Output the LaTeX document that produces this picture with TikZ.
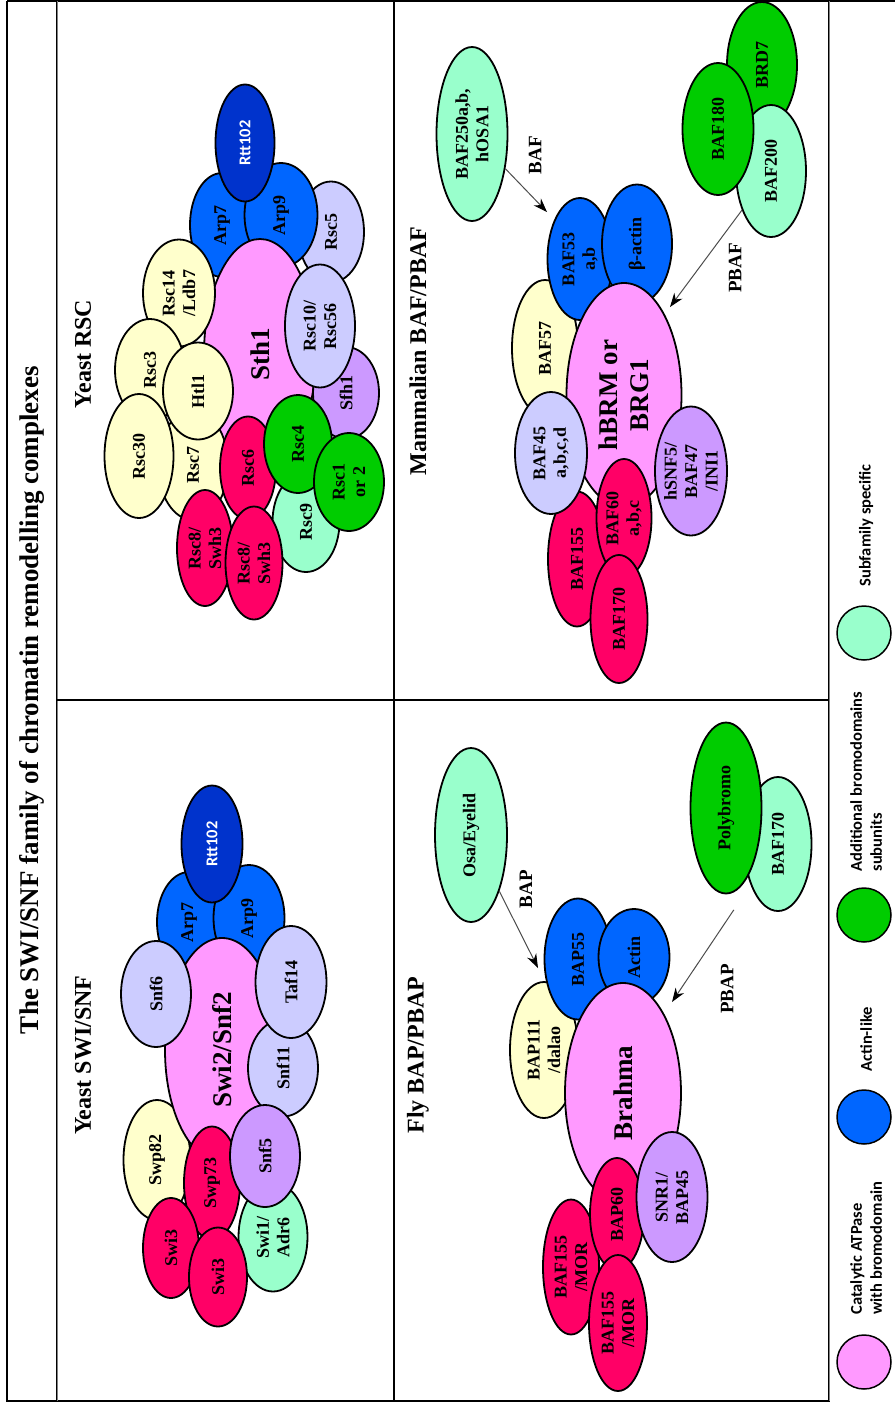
\documentclass[tikz,border=0pt]{standalone}
\usepackage{fontspec}
\setmainfont{Liberation Serif}
\newfontfamily\legendfont{Carlito}
\usetikzlibrary{shapes.geometric, arrows.meta}

\definecolor{atpase}{HTML}{FF99FF}
\definecolor{coresub}{HTML}{FFFFCC}
\definecolor{lavsub}{HTML}{CCCCFF}
\definecolor{snfsub}{HTML}{CC99FF}
\definecolor{swisub}{HTML}{FF0066}
\definecolor{bromo}{HTML}{00CC00}
\definecolor{subfam}{HTML}{99FFCC}
\definecolor{actinlike}{HTML}{0066FF}
\definecolor{rttblue}{HTML}{0033CC}

\tikzset{
  prot/.style={ellipse, draw, line width=1.8pt, inner sep=-8pt, rotate=90, align=center,
    font=\fontsize{18}{20.5}\selectfont\bfseries},
  dims/.style 2 args={minimum height=#1pt, minimum width=#2pt},
  bigtext/.style={font=\fontsize{27}{31}\selectfont\bfseries},
  rttnode/.style={fill=rttblue, text=white, font=\legendfont\bfseries\fontsize{16.5}{19}\selectfont},
  headtext/.style={rotate=90, font=\fontsize{24}{28}\selectfont\bfseries},
  panelline/.style={line width=2.5pt},
  dblline/.style={line width=0.8pt, double=gray, double distance=1pt},
  joins/.style={draw=black!70, line width=1pt, -{Stealth[length=14pt, width=10pt, black]}},
  arrowlab/.style={rotate=90, font=\fontsize{19}{22}\selectfont\bfseries},
  legdot/.style={circle, draw, line width=1.5pt, minimum size=54pt, inner sep=0pt},
  legtext/.style={rotate=90, anchor=west, align=left, font=\legendfont\bfseries\fontsize{16.5}{20}\selectfont},
}

\begin{document}
\begin{tikzpicture}[x=1pt, y=-1pt]
  \useasboundingbox (0,0) rectangle (895,1403);
  \draw [panelline] (7,1) -- (895,1);
  \draw [panelline] (7,1) -- (7,1401) -- (830,1401);
  \draw [dblline] (57,1) -- (57,1401);
  \draw [panelline] (394,1) -- (394,1401);
  \draw [panelline] (57,700) -- (829,700);
  \draw [dblline] (829,1) -- (829,1401);

  \node [headtext, font=\fontsize{27}{31}\selectfont\bfseries] (title) at (32,700) {The SWI/SNF family of chromatin remodelling complexes};
  \node [headtext] (rschead) at (83,354) {Yeast RSC};
  \node [headtext] (swihead) at (83,1055) {Yeast SWI/SNF};
  \node [headtext] (bafhead) at (418,351) {Mammalian BAF/PBAF};
  \node [headtext] (baphead) at (418,1055) {Fly BAP/PBAP};

  \node [prot, dims={66}{101}, fill=lavsub] (rsc5) at (331,232) {Rsc5};
  \node [prot, dims={64}{104}, fill=actinlike] (rarp7) at (222,225) {Arp7};
  \node [prot, dims={73}{104}, fill=actinlike] (rarp9) at (281,215) {Arp9};
  \node [prot, rttnode, dims={59}{117}] (rrtt) at (245,143) {Rtt102};
  \node [prot, bigtext, dims={112}{230}, fill=atpase] (sth1) at (260,354) {Sth1};
  \node [prot, dims={66}{92}, fill=snfsub] (sfh1) at (346,393) {Sfh1};
  \node [prot, dims={70}{123}, fill=lavsub] (rsc10) at (320,326) {Rsc10/\\Rsc56};
  \node [prot, dims={72}{107}, fill=coresub] (rsc14) at (179,293) {Rsc14\\/Ldb7};
  \node [prot, dims={70}{102}, fill=coresub] (rsc3) at (150,370) {Rsc3};
  \node [prot, dims={70}{110}, fill=coresub] (rsc7) at (193,465) {Rsc7};
  \node [prot, dims={70}{97}, fill=coresub] (htl1) at (198,391) {Htl1};
  \node [prot, dims={69}{124}, fill=coresub] (rsc30) at (139,456) {Rsc30};
  \node [prot, dims={56}{103}, fill=swisub] (rsc6) at (248,468) {Rsc6};
  \node [prot, dims={67}{100}, fill=subfam] (rsc9) at (306,522) {Rsc9};
  \node [prot, dims={68}{98}, fill=bromo] (rsc4) at (298,444) {Rsc4};
  \node [prot, dims={70}{98}, fill=bromo] (rsc1) at (349,482) {Rsc1\\or 2};
  \node [prot, dims={56}{116}, fill=swisub] (rsc8a) at (205,548) {Rsc8/\\Swh3};
  \node [prot, dims={57}{113}, fill=swisub] (rsc8b) at (254,563) {Rsc8/\\Swh3};

  \node [prot, dims={64}{100}, fill=actinlike] (sarp7) at (189,922) {Arp7};
  \node [prot, dims={71}{106}, fill=actinlike] (sarp9) at (249,918) {Arp9};
  \node [prot, rttnode, dims={61}{117}] (srtt) at (212,844) {Rtt102};
  \node [prot, dims={67}{120}, fill=coresub] (swp82) at (157,1160) {Swp82};
  \node [prot, bigtext, dims={114}{224}, fill=atpase] (swi2) at (222,1050) {Swi2/Snf2};
  \node [prot, dims={70}{97}, fill=lavsub] (snf11) at (283,1068) {Snf11};
  \node [prot, dims={71}{112}, fill=lavsub] (taf14) at (291,982) {Taf14};
  \node [prot, dims={70}{106}, fill=lavsub] (snf6) at (156,994) {Snf6};
  \node [prot, dims={56}{113}, fill=swisub] (swp73) at (212,1183) {Swp73};
  \node [prot, dims={69}{109}, fill=subfam] (swi1) at (273,1237) {Swi1/\\Adr6};
  \node [prot, dims={70}{102}, fill=snfsub] (snf5) at (265,1156) {Snf5};
  \node [prot, dims={56}{100}, fill=swisub] (swi3a) at (171,1248) {Swi3};
  \node [prot, dims={58}{99}, fill=swisub] (swi3b) at (218,1277) {Swi3};

  \node [prot, dims={71}{174}, fill=subfam] (baf250) at (472,134) {BAF250a,b,\\hOSA1};
  \node [prot, dims={70}{126}, fill=bromo] (brd7) at (762,65) {BRD7};
  \node [prot, dims={70}{132}, fill=subfam] (baf200) at (771,171) {BAF200};
  \node [prot, dims={71}{132}, fill=bromo] (baf180) at (718,129) {BAF180};
  \node [prot, dims={66}{136}, fill=coresub] (baf57) at (545,348) {BAF57};
  \node [prot, dims={65}{122}, fill=actinlike] (baf53) at (580,259) {BAF53\\a,b};
  \node [prot, dims={70}{119}, fill=actinlike] (bactin) at (637,244) {β-actin};
  \node [prot, bigtext, dims={115}{224}, fill=atpase] (hbrm) at (624,395) {hBRM or\\BRG1};
  \node [prot, dims={72}{129}, fill=snfsub] (hsnf5) at (691,471) {hSNF5/\\BAF47\\/INI1};
  \node [prot, dims={58}{135}, fill=swisub] (baf155) at (577,559) {BAF155};
  \node [prot, dims={55}{118}, fill=swisub] (baf60) at (624,518) {BAF60\\a,b,c};
  \node [prot, dims={72}{122}, fill=lavsub] (baf45) at (551,453) {BAF45\\a,b,c,d};
  \node [prot, dims={57}{128}, fill=swisub] (baf170) at (619,619) {BAF170};

  \node [prot, dims={72}{174}, fill=subfam] (osa) at (471,835) {Osa/Eyelid};
  \node [prot, dims={67}{134}, fill=subfam] (baf170f) at (778,844) {BAF170};
  \node [prot, dims={71}{171}, fill=bromo] (polybromo) at (726,808) {Polybromo};
  \node [prot, dims={68}{136}, fill=coresub] (bap111) at (544,1050) {BAP111\\/dalao};
  \node [prot, dims={67}{121}, fill=actinlike] (bap55) at (578,959) {BAP55};
  \node [prot, dims={71}{96}, fill=actinlike] (actin) at (634,957) {Actin};
  \node [prot, bigtext, dims={116}{220}, fill=atpase] (brahma) at (623,1093) {Brahma};
  \node [prot, dims={56}{135}, fill=swisub] (baf155a) at (571,1267) {BAF155\\/MOR};
  \node [prot, dims={54}{112}, fill=swisub] (bap60) at (617,1214) {BAP60};
  \node [prot, dims={71}{130}, fill=snfsub] (snr1) at (672,1197) {SNR1/\\BAP45};
  \node [prot, dims={58}{136}, fill=swisub] (baf155b) at (618,1323) {BAF155\\/MOR};

  \coordinate (baftip) at (547,212);
  \coordinate (pbaftip) at (670,307);
  \coordinate (baptip) at (538,968);
  \coordinate (pbaptip) at (672,1002);
  \draw [joins] (baf250) -- (baftip);
  \draw [joins] (baf200) -- (pbaftip);
  \draw [joins] (osa) -- (baptip);
  \draw [joins, shorten <=30pt] (baf170f) -- (pbaptip);
  \node [arrowlab] (baflab) at (535,155) {BAF};
  \node [arrowlab] (pbaflab) at (735,268) {PBAF};
  \node [arrowlab] (baplab) at (526,889) {BAP};
  \node [arrowlab] (pbaplab) at (727,989) {PBAP};

  \node [legdot, fill=atpase] (legatp) at (864,1362) {};
  \node [legdot, fill=actinlike] (legact) at (864,1117) {};
  \node [legdot, fill=bromo] (legbromo) at (864,915) {};
  \node [legdot, fill=subfam] (legsub) at (864,633) {};
  \node [legtext] (legatptext) at (866,1318) {Catalytic ATPase\\with bromodomain};
  \node [legtext] (legacttext) at (866,1075) {Actin-like};
  \node [legtext] (legbromotext) at (866,875) {Additional bromodomains\\subunits};
  \node [legtext] (legsubtext) at (866,590) {Subfamily specific};
\end{tikzpicture}
\end{document}
